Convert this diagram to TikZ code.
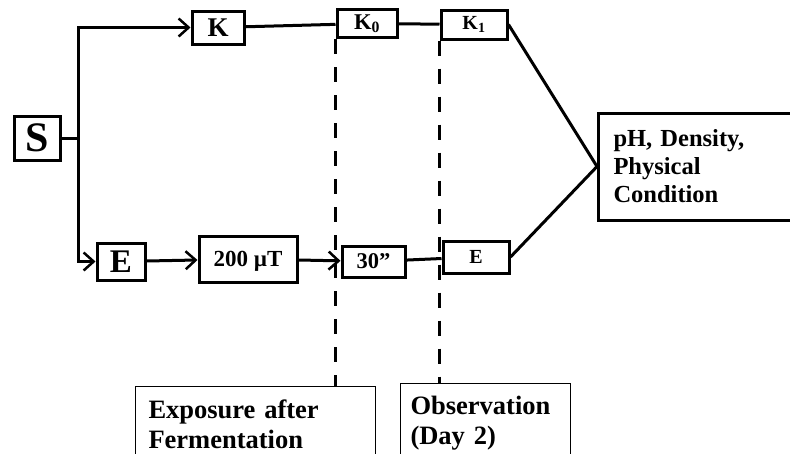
\documentclass[tikz,border=0pt]{standalone}
\usepackage{fontspec}
\setmainfont{Liberation Serif}
\usetikzlibrary{arrows.meta, positioning}
\tikzset{
  box/.style={rectangle, draw=black, line width=3pt, inner sep=0pt, font=\bfseries},
  notebox/.style={rectangle, draw=black, line width=1pt, inner sep=13pt,
    align=left, anchor=north west, font=\fontsize{26.5}{30}\selectfont\bfseries},
  arrow/.style={-{Straight Barb[length=10pt,width=18pt,line width=2.5pt]}, line width=3pt},
  line/.style={line width=3pt},
  dashline/.style={line width=3pt, dash pattern=on 15pt off 13pt}
}

\begin{document}
\begin{tikzpicture}[x=1pt, y=-1pt]
  \useasboundingbox (0,0) rectangle (790,453);
  \clip (0,0) rectangle (790,453);

  % Source
  \node[box, minimum width=46pt, minimum height=44pt, font=\fontsize{42}{42}\selectfont\bfseries] (S) at (37,138) {S};
  \coordinate (split) at (78,138);

  % Control branch
  \node[box, minimum width=52pt, minimum height=33pt, font=\fontsize{27}{27}\selectfont\bfseries] (K) at (218,27.5) {K};
  \node[box, minimum width=60pt, minimum height=28pt, font=\fontsize{22.5}{22}\selectfont\bfseries] (K0) at (367,23.5) {K\textsubscript{0}};
  \node[box, minimum width=66pt, minimum height=29pt, font=\fontsize{20}{20}\selectfont\bfseries] (K1) at (474,24.5) {K\textsubscript{1}};

  % Exposed branch
  \node[box, minimum width=48pt, minimum height=37pt, font=\fontsize{33}{33}\selectfont\bfseries] (E) at (121,261.5) {E};
  \node[box, minimum width=98pt, minimum height=46pt, text depth=0pt, font=\fontsize{23}{23}\selectfont\bfseries] (muT) at (248,259) {200 µT};
  \node[box, minimum width=63pt, minimum height=31pt, font=\fontsize{22.5}{22}\selectfont\bfseries] (sec) at (373.5,261.5) {30''};
  \node[box, minimum width=66pt, minimum height=32pt, font=\fontsize{20}{20}\selectfont\bfseries] (E2) at (476,257) {E};

  % Result
  \node[box, anchor=west, minimum width=205pt, minimum height=107pt, inner xsep=15pt,
    text width=175pt, align=left, font=\fontsize{24.5}{28}\selectfont\bfseries] (res) at (597,166.5)
    {pH, Density,\\Physical\\Condition};

  % Notes
  \node[notebox, text width=214pt] (expo) at (135,386) {Exposure after\\Fermentation};
  \node[notebox, text width=150pt, inner xsep=10pt] (obs) at (400,383) {Observation\\(Day 2)};

  % Connectors
  \draw[line] (S) -- (split);
  \draw[arrow] (split) |- (K);
  \draw[arrow] (split) |- (E);
  \draw[line] (K) -- (K0);
  \draw[line] (K0) -- (K1);
  \draw[arrow] (E) -- (muT);
  \draw[arrow] (muT) -- (sec);
  \draw[line] (sec) -- (E2);
  \draw[line] (K1.east) -- (res.west);
  \draw[line] (E2.east) -- (res.west);

  \draw[dashline] (K0.south west) -- (K0.south west |- expo.north);
  \draw[dashline] (K1.south west) -- (K1.south west |- obs.north);
\end{tikzpicture}
\end{document}
